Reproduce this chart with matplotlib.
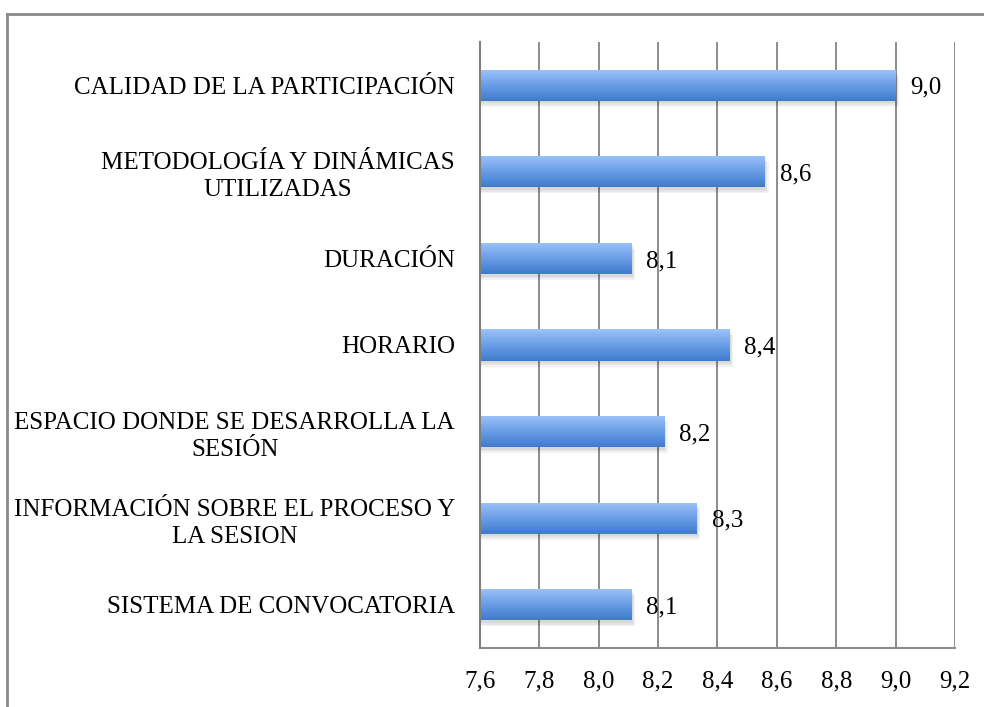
import numpy as np
import matplotlib
matplotlib.use("Agg")
import matplotlib.pyplot as plt
from matplotlib.colors import LinearSegmentedColormap
from matplotlib.patches import Rectangle
from matplotlib.lines import Line2D

categories = [
    "CALIDAD DE LA PARTICIPACIÓN",
    "METODOLOGÍA Y DINÁMICAS\nUTILIZADAS",
    "DURACIÓN",
    "HORARIO",
    "ESPACIO DONDE SE DESARROLLA LA\nSESIÓN",
    "INFORMACIÓN SOBRE EL PROCESO Y\nLA SESION",
    "SISTEMA DE CONVOCATORIA",
]
scores = [9.00, 8.56, 8.11, 8.44, 8.22, 8.33, 8.11]
x_ticks = [7.6, 7.8, 8.0, 8.2, 8.4, 8.6, 8.8, 9.0, 9.2]

plt.rcParams["font.family"] = ["Liberation Serif", "DejaVu Serif"]

fig = plt.figure(figsize=(9.84, 7.07), dpi=100)
ax = fig.add_axes([0.4878, 0.0835, 0.9705 - 0.4878, 0.9406 - 0.0835])

xmin, xmax = 7.6, 9.2
ax.set_xlim(xmin, xmax)
ax.set_ylim(len(categories) - 0.5, -0.5)

bar_h = 0.36
grad = LinearSegmentedColormap.from_list("bluegrad", ["#9dc3fa", "#6a9ee6", "#3f7bcc"])
gimg = np.linspace(0, 1, 64).reshape(-1, 1)

for i, v in enumerate(scores):
    # soft drop shadow
    for k, a in enumerate([0.05, 0.05, 0.05]):
        off = 0.004 * (k + 1)
        ax.add_patch(Rectangle((xmin, i - bar_h / 2 + 0.03 + 0.02 * k), v - xmin + off, bar_h,
                               facecolor="black", alpha=a, edgecolor="none", zorder=2))
    bar = ax.barh(i, v - xmin, left=xmin, height=bar_h, color="none", edgecolor="none", zorder=3)[0]
    im = ax.imshow(gimg, cmap=grad, aspect="auto", zorder=3,
                   extent=[xmin, v, i + bar_h / 2, i - bar_h / 2], interpolation="bilinear")
    im.set_clip_path(bar)
    ax.text(v + 0.05, i + 0.03, f"{v:.1f}".replace(".", ","), va="center", ha="left",
            fontsize=18, color="black", zorder=4)

ax.set_xticks(x_ticks)
ax.set_xticklabels([f"{t:.1f}".replace(".", ",") for t in x_ticks], fontsize=18)
ax.set_yticks(range(len(categories)))
ax.set_yticklabels(categories, fontsize=18, multialignment="center", linespacing=1.3)
ax.tick_params(axis="x", length=0, pad=16)
ax.tick_params(axis="y", length=0, pad=18)

ax.grid(axis="x", color="#8c8c8c", linewidth=1.4, zorder=1)
ax.set_axisbelow(True)
for s in ["top", "right"]:
    ax.spines[s].set_visible(False)
ax.spines["left"].set_color("#7f7f7f")
ax.spines["left"].set_linewidth(1.5)
ax.spines["bottom"].set_color("#8c8c8c")
ax.spines["bottom"].set_linewidth(1.5)
ax.spines["left"].set_zorder(5)

# outer frame (left and top edges)
fx = 7 / 984
fy = 1 - 14 / 707
fig.add_artist(Line2D([fx, fx], [0, fy], transform=fig.transFigure, color="#8a8a8a", linewidth=2))
fig.add_artist(Line2D([fx, 1], [fy, fy], transform=fig.transFigure, color="#8a8a8a", linewidth=2))

fig.savefig("out.png", dpi=100, facecolor="white")
